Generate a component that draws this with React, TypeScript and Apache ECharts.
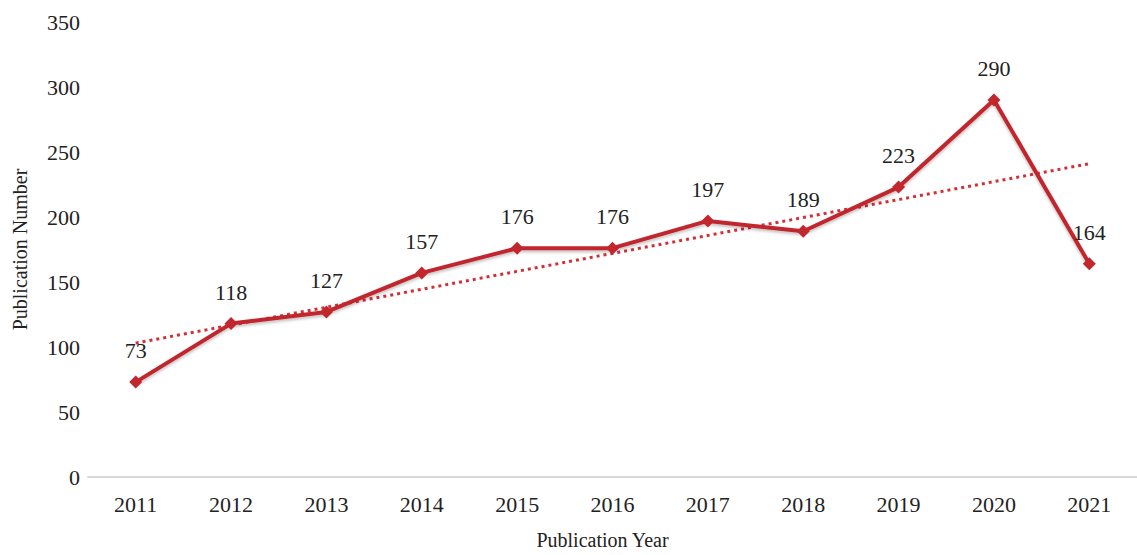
import React, { useEffect, useRef } from "react";
import * as echarts from "echarts";

const years = ["2011", "2012", "2013", "2014", "2015", "2016", "2017", "2018", "2019", "2020", "2021"];
const publications = [73, 118, 127, 157, 176, 176, 197, 189, 223, 290, 164];
// trend line endpoints (2011 and 2021)
const trend = [103, null, null, null, null, null, null, null, null, null, 241];

export default function App() {
  const ref = useRef<HTMLDivElement>(null);
  useEffect(() => {
    if (!ref.current) return;
    const chart = echarts.init(ref.current, null, { renderer: "svg" });
    const font = "'Liberation Serif', 'Times New Roman', serif";
    chart.setOption({
      animation: false,
      textStyle: { fontFamily: font },
      grid: { left: 88, right: -5, top: 22, bottom: 75 },
      xAxis: {
        type: "category",
        data: years,
        boundaryGap: true,
        axisLine: { lineStyle: { color: "#d9d9d9", width: 2 } },
        axisTick: { show: false },
        axisLabel: { color: "#222", fontSize: 22, fontFamily: font, margin: 16 },
        name: "Publication Year",
        nameLocation: "middle",
        nameGap: 53,
        nameTextStyle: { color: "#222", fontSize: 20, fontFamily: font, padding: [0, 20, 0, 0] },
      },
      yAxis: {
        type: "value",
        min: 0,
        max: 350,
        interval: 50,
        splitLine: { show: false },
        axisLine: { show: false },
        axisTick: { show: false },
        axisLabel: { color: "#222", fontSize: 22, fontFamily: font, margin: 8 },
        name: "Publication Number",
        nameLocation: "middle",
        nameGap: 58,
        nameTextStyle: { color: "#222", fontSize: 20, fontFamily: font },
      },
      series: [
        {
          type: "line",
          data: trend,
          connectNulls: true,
          symbol: "none",
          lineStyle: { color: "#d42f35", width: 3, type: [3, 4] },
          z: 1,
        },
        {
          type: "line",
          data: publications,
          symbol: "diamond",
          symbolSize: 13,
          itemStyle: { color: "#c1272d" },
          lineStyle: {
            color: "#c1272d",
            width: 4,
            shadowColor: "rgba(0,0,0,0.25)",
            shadowBlur: 3,
            shadowOffsetY: 2,
          },
          label: {
            show: true,
            position: "top",
            distance: 14,
            color: "#222",
            fontSize: 22,
            fontFamily: font,
          },
          z: 2,
        },
      ],
    });
    return () => chart.dispose();
  }, []);
  return (
    <div
      ref={ref}
      style={{ position: "absolute", left: 0, top: 0, width: 1137, height: 555, background: "#fff" }}
    />
  );
}
